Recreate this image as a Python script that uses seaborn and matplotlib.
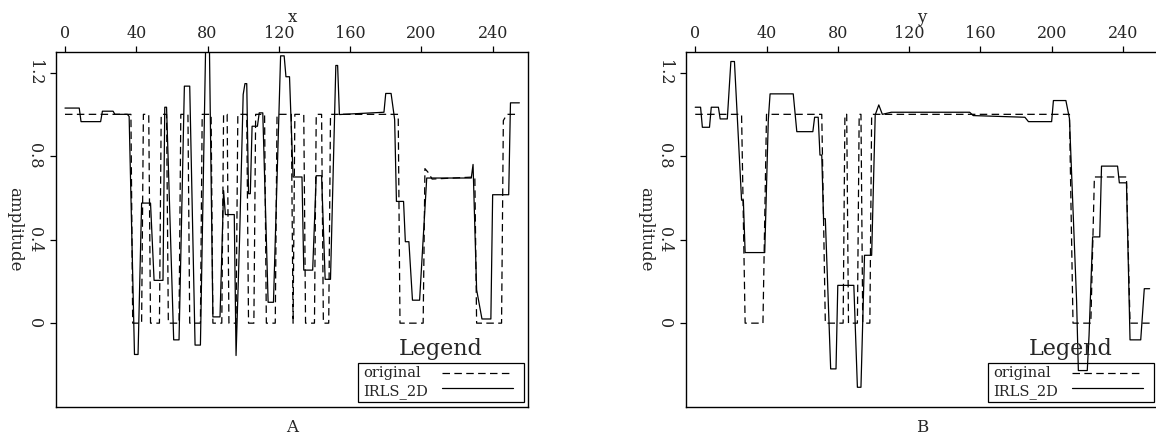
import matplotlib
matplotlib.use("Agg")
import matplotlib.pyplot as plt
from matplotlib.patches import Rectangle
import seaborn as sns

# panel A: slice along x
a_orig_x = [0, 37, 38, 43, 44, 47, 48, 53, 54, 57, 58, 64, 65, 69, 70, 76, 77, 82, 83, 88,
            89, 91, 92, 96, 97, 102, 103, 106, 107, 112, 113, 118, 119, 127, 128, 129, 134,
            135, 140, 141, 144, 145, 148, 149, 187, 188, 201, 202, 204, 206, 230, 231, 245,
            246, 248, 255]
a_orig_y = [1.0, 1.0, 0.0, 0.0, 1.0, 1.0, 0.0, 0.0, 1.0, 1.0, 0.0, 0.0, 1.0, 1.0, 0.0, 0.0,
            1.0, 1.0, 0.0, 0.0, 1.0, 1.0, 0.0, 0.0, 1.0, 1.0, 0.0, 0.0, 1.0, 1.0, 0.0, 0.0,
            1.0, 1.0, 0.0, 1.0, 1.0, 0.0, 0.0, 1.0, 1.0, 0.0, 0.0, 1.0, 1.0, 0.0, 0.0, 0.74,
            0.72, 0.69, 0.7, 0.0, 0.0, 0.97, 1.0, 1.0]
a_irls_x = [0, 8, 9, 20, 21, 27, 28, 35, 36, 39, 41, 43, 48, 50, 55, 56, 57, 61, 64, 67, 70,
            73, 76, 79, 81, 83, 87, 89, 90, 95, 96, 98, 100, 101, 102, 103, 104, 105, 108,
            109, 111, 114, 117, 121, 123, 124, 126, 128, 133, 134, 139, 141, 144, 146, 149,
            152, 153, 154, 179, 180, 183, 185, 186, 190, 191, 193, 195, 199, 203, 228, 229,
            231, 234, 239, 240, 249, 250, 255]
a_irls_y = [1.03, 1.03, 0.965, 0.965, 1.015, 1.015, 1.0, 1.0, 0.99, -0.15, -0.15, 0.575,
            0.575, 0.205, 0.205, 1.034, 1.034, -0.08, -0.08, 1.135, 1.135, -0.105, -0.105,
            1.36, 1.36, 0.03, 0.03, 0.635, 0.52, 0.52, -0.155, 0.41, 1.095, 1.147, 1.147,
            0.62, 0.62, 0.943, 0.943, 1.007, 1.007, 0.10, 0.10, 1.28, 1.28, 1.18, 1.18, 0.70,
            0.70, 0.254, 0.254, 0.706, 0.706, 0.21, 0.21, 1.234, 1.234, 0.999, 1.01, 1.10,
            1.10, 0.975, 0.583, 0.583, 0.39, 0.39, 0.11, 0.11, 0.695, 0.695, 0.76, 0.16,
            0.02, 0.02, 0.615, 0.615, 1.055, 1.055]

# panel B: slice along y
b_orig_x = [0, 26, 28, 38, 40, 71, 73, 83, 84, 85, 86, 91, 92, 93, 94, 98, 99, 210, 212,
            222, 224, 242, 244, 255]
b_orig_y = [1.0, 1.0, 0.0, 0.0, 1.0, 1.0, 0.0, 0.0, 1.0, 1.0, 0.0, 0.0, 1.0, 1.0, 0.0, 0.0,
            1.0, 1.0, 0.0, 0.0, 0.7, 0.7, 0.0, 0.0]
b_irls_x = [0, 3, 4, 8, 9, 13, 14, 18, 20, 22, 26, 27, 28, 39, 41, 42, 55, 57, 66, 67, 69,
            70, 71, 72, 73, 76, 79, 80, 89, 91, 93, 95, 99, 101, 103, 105, 110, 154, 156,
            185, 187, 200, 201, 208, 210, 214, 215, 220, 221, 223, 227, 228, 237, 238, 242,
            244, 250, 252, 255]
b_irls_y = [1.034, 1.034, 0.938, 0.938, 1.034, 1.034, 0.978, 0.978, 1.253, 1.253, 0.589,
            0.589, 0.338, 0.338, 0.973, 1.098, 1.098, 0.917, 0.917, 0.986, 0.986, 0.805,
            0.805, 0.50, 0.50, -0.219, -0.219, 0.181, 0.181, -0.307, -0.307, 0.325, 0.325,
            0.997, 1.045, 1.0, 1.01, 1.01, 0.994, 0.986, 0.965, 0.965, 1.066, 1.066, 0.98,
            0.109, -0.227, -0.227, -0.059, 0.413, 0.413, 0.752, 0.752, 0.672, 0.672, -0.08,
            -0.08, 0.165, 0.165]

x_ticks = [0, 40, 80, 120, 160, 200, 240]
y_ticks = [0, 0.4, 0.8, 1.2]
y_tick_labels = ["0", "0.4", "0.8", "1.2"]
legend_labels = ["original", "IRLS_2D"]

sns.set_style("ticks")
plt.rcParams["font.family"] = ["DejaVu Serif"]
plt.rcParams["axes.linewidth"] = 1.0

DASH = (0, (6, 3.5))

fig = plt.figure(figsize=(11.56, 4.38), dpi=100)
ax_a = fig.add_axes([0.0482, 0.0715, 0.4088, 0.8105])
ax_b = fig.add_axes([0.5934, 0.0715, 0.4088, 0.8105])

panels = [
    (ax_a, a_orig_x, a_orig_y, a_irls_x, a_irls_y, "x", "A"),
    (ax_b, b_orig_x, b_orig_y, b_irls_x, b_irls_y, "y", "B"),
]

for ax, ox, oy, ix, iy, axname, tag in panels:
    sns.lineplot(x=ox, y=oy, ax=ax, color="black", lw=0.9, sort=False, estimator=None,
                 linestyle=DASH, legend=False)
    sns.lineplot(x=ix, y=iy, ax=ax, color="black", lw=0.9, sort=False, estimator=None,
                 legend=False)
    ax.set_xlim(-5.2, 260)
    ax.set_ylim(-0.4, 1.3)
    ax.xaxis.tick_top()
    ax.xaxis.set_label_position("top")
    ax.set_xticks(x_ticks)
    ax.set_yticks(y_ticks)
    ax.set_yticklabels(y_tick_labels)
    ax.tick_params(axis="both", labelsize=11.5, length=4, width=0.9, color="black")
    ax.tick_params(axis="x", pad=3)
    ax.tick_params(axis="y", pad=5)
    plt.setp(ax.get_yticklabels(), rotation=270, va="center")
    ax.set_xlabel(axname, fontsize=12, labelpad=2)
    ax.set_ylabel("amplitude", fontsize=12, rotation=270, va="top", labelpad=2)
    for s in ax.spines.values():
        s.set_visible(True)
        s.set_color("black")
    ax.text(0.5, -0.035, tag, transform=ax.transAxes, ha="center", va="top", fontsize=12)

    # legend box drawn by hand: label column left-aligned, samples on the right
    ax.add_patch(Rectangle((0.639, 0.0124), 0.352, 0.112, transform=ax.transAxes,
                           fill=False, ec="black", lw=0.9, zorder=5))
    ax.text(0.815, 0.146, "Legend", transform=ax.transAxes, ha="center", va="baseline",
            fontsize=16)
    for lab, ty, ly, ls in zip(legend_labels, [0.085, 0.032], [0.094, 0.052], [DASH, "-"]):
        ax.text(0.650, ty, lab, transform=ax.transAxes, ha="left", va="baseline",
                fontsize=10.5)
        ax.plot([0.817, 0.968], [ly, ly], transform=ax.transAxes, color="black",
                lw=0.9, linestyle=ls)

fig.savefig("out.png", dpi=100)
